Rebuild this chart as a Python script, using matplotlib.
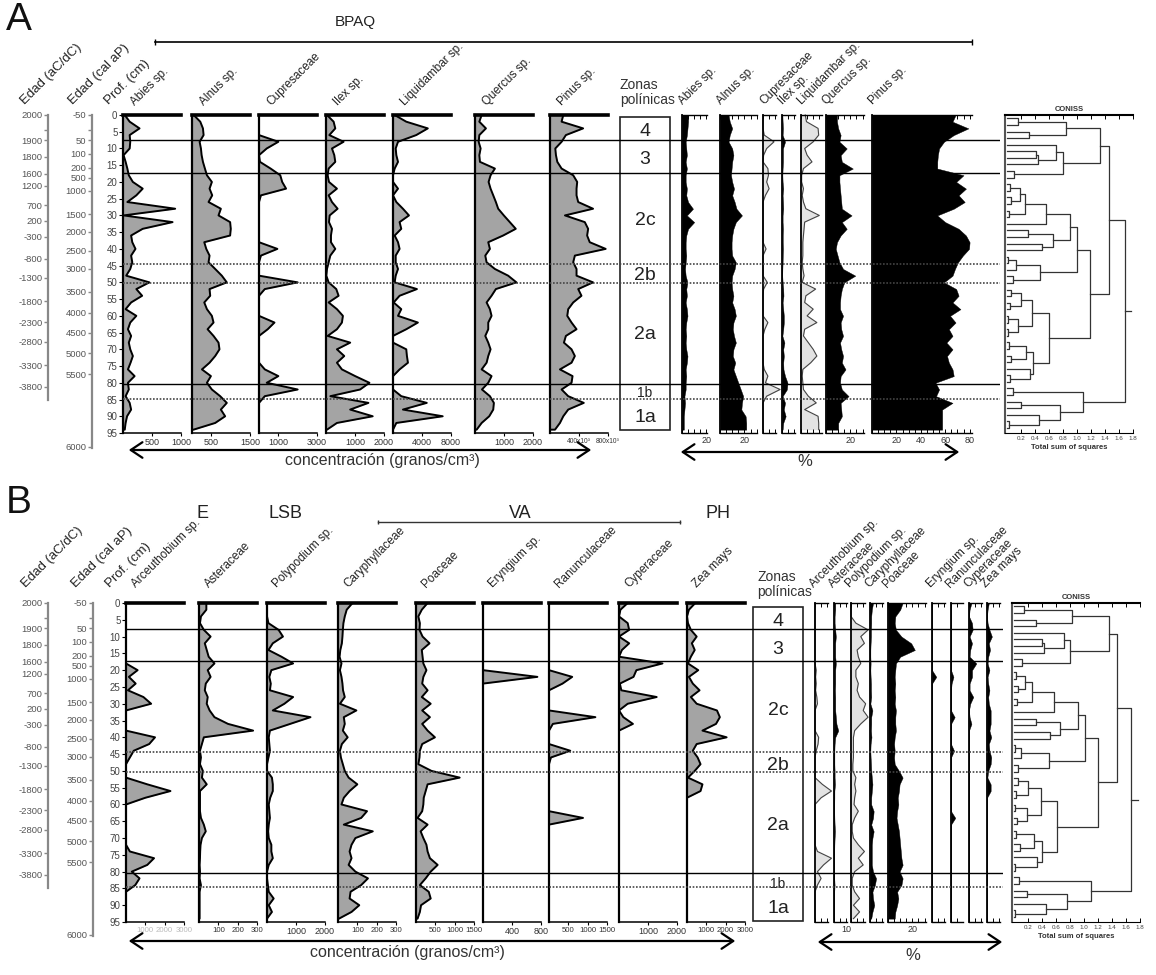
import numpy as np
import matplotlib
matplotlib.use("Agg")
import matplotlib.pyplot as plt
from matplotlib.patches import FancyArrowPatch, Rectangle
from matplotlib.ticker import MultipleLocator

plt.rcParams["font.family"] = ["Liberation Sans", "DejaVu Sans"]

# ---------------------------------------------------------------------------
# Data
# ---------------------------------------------------------------------------
depth = [0, 2, 4, 6, 8, 10, 12, 14, 16, 18, 20, 22, 24, 26, 28, 30, 32, 34, 36, 38,
         40, 42, 44, 46, 48, 50, 52, 54, 56, 58, 60, 62, 64, 66, 68, 70, 72, 74, 76, 78,
         80, 82, 84, 86, 88, 90, 92, 94]

# --- Panel A: concentration (granos/cm3) ---
a_abies_c = [30, 115, 285, 115, 125, 115, 10, 45, 75, 100,
             170, 340, 230, 75, 900, 10, 855, 340, 140, 160,
             215, 140, 160, 125, 55, 455, 230, 330, 140, 45,
             230, 125, 85, 140, 100, 125, 170, 130, 85, 200,
             85, 100, 45, 115, 140, 70, 45, 30]
a_alnus_c = [43, 214, 283, 300, 197, 231, 249, 283, 334, 386,
             514, 454, 523, 428, 746, 686, 986, 1003, 986, 317,
             369, 454, 428, 600, 771, 900, 454, 471, 317, 386,
             514, 557, 403, 557, 686, 711, 600, 454, 257, 489,
             386, 514, 729, 900, 746, 857, 600, 40]
a_cupr_c = [0, 0, 0, 0, 1000, 400, 0, 50, 600, 1100,
            1200, 1400, 100, 0, 0, 0, 0, 0, 0, 0,
            950, 100, 0, 0, 0, 2000, 300, 0, 0, 0,
            0, 800, 450, 0, 0, 0, 0, 0, 300, 1000,
            400, 2000, 300, 0, 0, 0, 0, 0]
a_ilex_c = [35, 263, 320, 114, 606, 206, 286, 320, 91, 57,
            103, 377, 91, 206, 400, 126, 103, 206, 171, 171,
            320, 149, 91, 34, 11, 91, 354, 434, 91, 377,
            583, 549, 377, 57, 834, 377, 629, 377, 549, 1006,
            1497, 1177, 149, 1463, 834, 1611, 377, 34]
a_liq_c = [230, 1830, 4800, 3200, 690, 370, 460, 690, 230, 0,
           0, 690, 0, 460, 1370, 2200, 910, 1140, 230, 690,
           910, 370, 370, 690, 370, 230, 3300, 910, 90, 1140,
           690, 3430, 1830, 0, 0, 1830, 1920, 2060, 910, 0,
           0, 0, 1140, 4660, 1370, 6860, 460, 0]
a_quercus_c = [229, 149, 377, 149, 126, 194, 149, 171, 686, 537,
               469, 537, 629, 720, 800, 994, 1200, 1406, 971, 457,
               514, 354, 400, 686, 1143, 1429, 720, 571, 400, 514,
               571, 457, 457, 354, 457, 537, 457, 400, 229, 571,
               457, 240, 514, 651, 629, 491, 229, 57]
a_pinus_c = [183, 160, 457, 219, 160, 73, 82, 101, 160, 320,
             375, 366, 366, 389, 594, 206, 480, 526, 512, 548,
             768, 343, 320, 366, 366, 594, 389, 434, 320, 251,
             238, 297, 366, 219, 192, 297, 343, 297, 137, 311,
             297, 160, 251, 466, 251, 183, 137, 69]

# --- Panel A: percentages ---
a_abies_p = [5, 5, 4.5, 4, 3, 3.5, 4, 3, 4, 3,
             3, 4, 3.5, 5, 9, 4, 10, 5, 3.5, 3,
             3, 3.5, 3, 2.5, 3, 4.5, 3.5, 4, 3, 4,
             4.5, 3.5, 3, 3.5, 3, 3.5, 4.5, 4, 3, 3.5,
             3, 3, 2, 2.5, 2, 1.5, 1.5, 1.5]
a_alnus_p = [7, 8, 10, 8, 7, 10, 11, 10, 9.5, 9,
             10, 11.5, 10, 12, 13.5, 18, 13, 11, 10, 9.5,
             9.5, 10, 13, 12, 10, 9.5, 10, 11, 10, 12,
             13, 11, 10.5, 11.5, 13, 11, 10.5, 12.5, 11, 13,
             15, 17, 19, 18, 17.5, 21, 21.5, 21.5]
a_cupr_p = [0, 0, 0, 1, 9, 3, 0.5, 0, 4, 4.5,
            3, 5, 2, 0, 0, 0, 0, 0, 0, 0,
            2.5, 0, 0, 0, 0, 3.5, 0.5, 0, 0, 0,
            0, 4, 1.5, 0, 0, 0, 0, 0, 1, 4,
            2, 14, 3, 0, 0, 0, 0, 0]
a_ilex_p = [0.3, 0.5, 0.8, 0.5, 2.5, 0.8, 0.8, 0.8, 0.5, 0.3,
            0.5, 1, 0.5, 0.8, 1, 0.5, 0.5, 0.8, 0.6, 0.6,
            0.8, 0.6, 0.5, 0.3, 0.2, 0.5, 1, 1.2, 0.5, 1,
            1.5, 1.5, 1, 0.3, 2, 1, 1.5, 1, 1.2, 2.5,
            4.5, 4, 0.5, 2.5, 1.5, 3, 1, 0.5]
a_liq_p = [3.5, 4.5, 14, 14.5, 10, 3, 5, 9, 2, 0.5,
           0.5, 2, 1, 2, 4, 15, 3, 2.5, 2, 1.5,
           1.5, 1.5, 1, 1.5, 2.5, 1, 12, 4, 3, 10,
           5, 13, 3, 2, 6, 10, 13, 8, 1.5, 1,
           1.5, 2, 6, 12.5, 3, 14, 14.5, 14.5]
a_quercus_p = [9, 9, 10, 12, 11, 17, 12, 13, 22, 11,
               11, 11.5, 12, 12.5, 13, 21, 13, 17, 12, 9,
               8, 9.5, 11, 14, 24, 15, 13, 12, 11.5, 11.5,
               14, 12, 12.5, 14, 11.5, 12.5, 14, 13, 16, 12,
               11.5, 13, 18.5, 12, 12.5, 13, 10, 10]
a_pinus_p = [68.5, 66, 79, 67, 59, 55, 54, 53.5, 53.5, 75,
             69, 77, 71, 76, 67, 53.5, 60, 71, 77, 80,
             79.5, 74.5, 70.5, 68, 66, 59, 69, 71, 66, 72.5,
             64, 68.5, 63, 66, 61, 66, 61.5, 63, 66, 67,
             52, 55, 52.5, 66, 57.5, 57.5, 57.5, 57.5]

a_names = ["Abies sp.", "Alnus sp.", "Cupresaceae", "Ilex sp.",
           "Liquidambar sp.", "Quercus sp.", "Pinus sp."]
a_conc = [a_abies_c, a_alnus_c, a_cupr_c, a_ilex_c, a_liq_c, a_quercus_c, a_pinus_c]
a_pct = [a_abies_p, a_alnus_p, a_cupr_p, a_ilex_p, a_liq_p, a_quercus_p, a_pinus_p]
a_conc_max = [1000, 1500, 3000, 2000, 8000, 2000, 800]
a_conc_ticks = [[500, 1000], [500, 1500], [1000, 3000], [1000, 2000],
                [4000, 8000], [1000, 2000], [400, 800]]
a_conc_labels = [["500", "1000"], ["500", "1500"], ["1000", "3000"], ["1000", "2000"],
                 ["4000", "8000"], ["1000", "2000"], ["400x10³", "800x10³"]]
a_pct_ticks = [[20], [20], [], [], [], [20], [20, 40, 60, 80]]
a_pct_light = [False, False, True, False, True, False, False]

# --- Panel B: concentration (granos/cm3) ---
b_arceu_c = [0, 0, 0, 0, 0, 0, 0, 0, 0, 0,
             600, 150, 500, 100, 900, 1300, 0, 0, 0, 0,
             1500, 1200, 400, 200, 0, 0, 0, 1100, 2300, 1000,
             0, 0, 0, 0, 0, 0, 0, 200, 1450, 1100,
             300, 700, 480, 0, 0, 0, 0, 0]
b_aster_c = [38, 38, 10, 5, 25, 60, 30, 40, 50, 80,
             45, 60, 35, 30, 45, 40, 55, 80, 150, 280,
             25, 15, 5, 10, 5, 20, 15, 40, 5, 5,
             5, 5, 10, 25, 35, 15, 8, 6, 5, 3,
             5, 3, 10, 3, 3, 3, 3, 3]
b_poly_c = [0, 0, 0, 50, 400, 550, 200, 50, 500, 900,
            150, 80, 130, 100, 900, 600, 200, 1500, 800, 100,
            60, 80, 100, 50, 0, 0, 170, 200, 200, 110,
            60, 80, 100, 60, 40, 60, 150, 150, 200, 60,
            0, 0, 30, 60, 230, 60, 170, 0]
b_cary_c = [75, 45, 35, 28, 25, 23, 20, 12, 8, 18,
            10, 18, 23, 26, 35, 10, 95, 30, 35, 25,
            50, 20, 10, 15, 25, 35, 55, 100, 60, 30,
            18, 150, 120, 30, 180, 90, 70, 60, 70, 55,
            90, 155, 120, 65, 60, 110, 70, 5]
b_poa_c = [300, 150, 60, 100, 90, 170, 350, 150, 170, 190,
           270, 190, 160, 300, 150, 380, 160, 360, 160, 300,
           490, 160, 100, 90, 60, 400, 1130, 300, 250, 200,
           190, 160, 40, 300, 120, 190, 270, 300, 360, 560,
           380, 250, 100, 330, 380, 130, 100, 40]
b_eryn_c = [0, 0, 0, 0, 0, 0, 0, 0, 0, 0,
            0, 750, 0, 0, 0, 0, 0, 0, 0, 0,
            0, 0, 0, 0, 0, 0, 0, 0, 0, 0,
            0, 0, 0, 0, 0, 0, 0, 0, 0, 0,
            0, 0, 0, 0, 0, 0, 0, 0]
b_ranun_c = [0, 0, 0, 0, 0, 0, 0, 0, 0, 0,
             0, 600, 350, 0, 0, 0, 0, 1200, 100, 0,
             0, 0, 550, 50, 0, 0, 0, 0, 0, 0,
             0, 0, 880, 0, 0, 0, 0, 0, 0, 0,
             0, 0, 0, 0, 0, 0, 0, 0]
b_cyper_c = [300, 50, 0, 300, 350, 0, 350, 100, 0, 1500,
             600, 500, 30, 80, 1300, 300, 0, 150, 480, 0,
             0, 0, 0, 0, 0, 0, 0, 0, 0, 0,
             0, 0, 0, 0, 0, 0, 0, 0, 0, 0,
             0, 0, 0, 0, 0, 0, 0, 0]
b_zea_c = [430, 100, 0, 50, 200, 500, 250, 400, 200, 50,
           580, 100, 300, 650, 200, 500, 1550, 1700, 1500, 800,
           2050, 500, 300, 550, 700, 400, 50, 800, 700, 0,
           0, 0, 0, 0, 0, 0, 0, 0, 0, 0,
           0, 0, 0, 0, 0, 0, 0, 0]

# --- Panel B: percentages ---
b_arceu_p = [0, 0, 0, 0, 0, 0, 0, 0, 0, 0,
             1, 0.5, 1, 0.5, 1.5, 2, 0, 0, 0, 0,
             3, 2.5, 1, 0, 0, 0, 0, 6, 13.5, 5,
             0, 0, 0, 0, 0, 0, 0, 2, 13.5, 7,
             2, 5, 2, 0, 0, 0, 0, 0]
b_aster_p = [1, 1, 0.5, 0.5, 1, 1.5, 1, 1, 1, 1.5,
             1, 1, 1, 0.8, 1, 1, 1, 1.5, 2, 3.5,
             1, 0.5, 0.3, 0.3, 0.3, 0.5, 0.5, 0.8, 0.3, 0.3,
             0.2, 0.2, 0.3, 0.5, 0.8, 0.5, 0.3, 0.2, 0.2, 0.2,
             0.2, 0.2, 0.5, 0.2, 0.2, 0.2, 0.2, 0.2]
b_poly_p = [0, 0, 0, 4, 14, 8, 11, 5, 6, 8,
            4, 4, 6, 5, 7, 12, 10, 14, 8, 3,
            2, 2, 2, 2, 1.5, 1.5, 4, 3, 4, 3,
            2.5, 6, 3, 1, 1, 2, 6, 11, 6, 10,
            3, 1, 1, 3, 7, 2, 7, 2]
b_cary_p = [2.5, 1.5, 1, 1, 0.8, 0.8, 0.5, 0.3, 0.3, 0.5,
            0.3, 0.5, 0.8, 0.8, 1, 0.3, 2, 1, 1, 0.8,
            1.2, 0.5, 0.3, 0.5, 0.8, 1, 1.5, 2, 1.5, 1,
            1, 3, 2.5, 1, 3, 2, 1.5, 1.5, 1.5, 1.5,
            2.5, 5, 4, 2, 2.5, 3.5, 2, 1]
b_poa_p = [12, 10, 6, 5.5, 6.5, 11, 19, 22, 10, 6.5,
           6, 5.5, 6, 5.5, 6, 5.5, 6.5, 6, 6, 6.5,
           5.5, 5, 5.5, 5, 5.5, 9, 12, 9.5, 9, 8,
           8.5, 7.5, 7, 8, 9, 9.5, 10, 10.5, 11, 12,
           9.5, 12, 11, 7.5, 8.5, 7.5, 6, 5.5]
b_eryn_p = [0, 0, 0, 0, 0, 0, 0, 0, 0, 0,
            0, 3.5, 0, 0, 0, 0, 0, 0, 0, 0,
            0, 0, 0, 0, 0, 0, 0, 0, 0, 0,
            0, 0, 0, 0, 0, 0, 0, 0, 0, 0,
            0, 0, 0, 0, 0, 0, 0, 0]
b_ranun_p = [0, 0, 0, 0, 0, 0, 0, 0, 0, 0,
             0, 2, 0.5, 0, 0, 0, 0, 3, 0, 0,
             0, 0, 2.5, 0, 0, 0, 0, 0, 0, 0,
             0, 0, 3.5, 0, 0, 0, 0, 0, 0, 0,
             0, 0, 0, 0, 0, 0, 0, 0]
b_cyper_p = [2, 0.5, 0, 2.5, 3, 0.5, 2.5, 1, 0.5, 6,
             2.5, 2.5, 0.5, 0.5, 3.5, 1, 0, 0.5, 2, 0,
             0, 0, 0, 0, 0, 0, 0, 0, 0, 0,
             0, 0, 0, 0, 0, 0, 0, 0, 0, 0,
             0, 0, 0, 0, 0, 0, 0, 0]
b_zea_p = [1.5, 0.5, 0, 0.5, 2, 4, 1.5, 2.5, 1, 0.5,
           2, 0.5, 1, 2, 1, 1.5, 3, 3, 3, 2,
           3.5, 1.5, 2, 3.5, 3, 1, 0.3, 3, 3, 0,
           0, 0, 0, 0, 0, 0, 0, 0, 0, 0,
           0, 0, 0, 0, 0, 0, 0, 0]

b_names = ["Arceuthobium sp.", "Asteraceae", "Polypodium sp.", "Caryphyllaceae",
           "Poaceae", "Eryngium sp.", "Ranunculaceae", "Cyperaceae", "Zea mays"]
b_conc = [b_arceu_c, b_aster_c, b_poly_c, b_cary_c, b_poa_c, b_eryn_c,
          b_ranun_c, b_cyper_c, b_zea_c]
b_pct = [b_arceu_p, b_aster_p, b_poly_p, b_cary_p, b_poa_p, b_eryn_p,
         b_ranun_p, b_cyper_p, b_zea_p]
b_conc_max = [3000, 300, 2000, 300, 1500, 800, 1500, 2000, 3000]
b_conc_ticks = [[1000, 2000, 3000], [100, 200, 300], [1000, 2000], [100, 200, 300],
                [500, 1000, 1500], [400, 800], [500, 1000, 1500], [1000, 2000],
                [1000, 2000, 3000]]
b_pct_ticks = [[], [10], [], [], [20], [], [], [], []]
b_pct_light = [True, False, True, False, False, False, False, False, False]

# zones
zone_solid = [7.6, 17.4, 80.5]
zone_dotted = [44.5, 50.3, 84.7]
zone_names = ["4", "3", "2c", "2b", "2a", "1b", "1a"]
zone_mid = [4.8, 13.4, 31.4, 47.8, 65.7, 83.0, 90.5]

# age scales (label, depth in cm)
age_ad = ["2000", "", "1900", "1800", "1600", "1200", "700", "200", "-300", "-800",
          "-1300", "-1800", "-2300", "-2800", "-3300", "-3800"]
age_ad_depth = [0, 4.5, 7.5, 12.5, 17.6, 21.1, 26.9, 31.6, 36.4, 43, 48.7, 55.6,
                62, 67.7, 74.7, 81.2]
age_bp = ["-50", "", "50", "100", "200", "500", "1000", "1500", "2000", "2500", "3000",
          "3500", "4000", "4500", "5000", "5500", "6000"]
age_bp_depth = [0, 4.5, 7.5, 11.6, 15.8, 18.8, 22.6, 29.6, 34.9, 40.5, 46, 52.8,
                59.1, 65, 71.2, 77.5, 99.2]

# CONISS trees: [height, left, right]; L = one sample
L = 0
coniss_a = [1.68,
            [1.46,
             [1.33,
              [0.84, [0.16, L, L], [0.31, L, L]],
              [0.8, [0.7, L, [0.44, [0.42, L, L], L]], [0.1, L, L]]],
             [1.18,
              [1.0,
               [0.9,
                [0.55, [0.25, [0.18, [0.04, L, L], [0.05, L, L]], [0.03, L, L]], L],
                [0.66, [0.3, L, L], [0.5, L, L]]],
               [0.47, [0.13, [0.02, L, L], L], [0.08, L, L]]],
              [0.6,
               [0.35, [0.2, [0.05, L, L], [0.04, L, L]], [0.15, [0.01, L, L], [0.02, L, L]]],
               [0.37, [0.27, [0.03, L, L], [0.06, L, L]], [0.33, L, [0.04, L, L]]]]]],
            [1.08, [0.08, L, L], [0.75, [0.2, L, L], [0.45, L, [0.03, L, L]]]]]
coniss_b = [1.67,
            [1.47,
             [1.35,
              [0.83, [0.14, L, L], [0.31, L, L]],
              [0.8, [0.71, L, [0.43, [0.4, L, L], L]], [0.12, L, L]]],
             [1.2,
              [1.02,
               [0.92,
                [0.57, [0.26, [0.16, [0.03, L, L], [0.05, L, L]], [0.04, L, L]], L],
                [0.66, [0.31, L, L], [0.52, L, L]]],
               [0.5, [0.1, [0.02, L, L], L], [0.05, L, L]]],
              [0.62,
               [0.38, [0.2, [0.05, L, L], [0.03, L, L]], [0.18, [0.02, L, L], [0.04, L, L]]],
               [0.4, [0.28, [0.03, L, L], [0.08, L, L]], [0.33, L, [0.02, L, L]]]]]],
            [1.1, [0.07, L, L], [0.75, [0.19, L, L], [0.45, L, [0.02, L, L]]]]]

# ---------------------------------------------------------------------------
# Layout (pixels)
# ---------------------------------------------------------------------------
W, H = 1156, 975
CONC_FILL = "#a4a4a4"
LIGHT_FILL = "#e3e3e3"
PCT_PX = 1.22          # px per percent unit

fig = plt.figure(figsize=(W / 100, H / 100), dpi=100)


def px_axes(x, y, w, h):
    ax = fig.add_axes([x / W, 1 - (y + h) / H, w / W, h / H])
    ax.patch.set_alpha(0)
    return ax


def conc_column(x, top, bot, vals, xmax, ticks, labels, label_color="#333",
                label_size=6.5, depth_axis=False):
    ax = px_axes(x, top, 58, bot - top)
    ax.fill_betweenx(depth, 0, vals, color=CONC_FILL, lw=0, zorder=2)
    ax.plot([0] + vals + [0], [depth[0]] + depth + [depth[-1]],
            color="black", lw=1.4, zorder=3)
    ax.set_xlim(0, xmax)
    ax.set_ylim(95, 0)
    ax.spines["right"].set_visible(False)
    ax.spines["top"].set_linewidth(2.6)
    ax.spines["left"].set_linewidth(1.6)
    ax.spines["bottom"].set_linewidth(1.1)
    ax.set_xticks(ticks)
    ax.set_xticklabels(labels, fontsize=label_size, color=label_color)
    ax.tick_params(axis="x", length=2, width=0.8, pad=1.5)
    if depth_axis:
        ax.set_yticks(list(range(0, 96, 5)))
        ax.tick_params(axis="y", length=3, width=0.8, labelsize=7, labelcolor="#444", pad=1)
    else:
        ax.set_yticks([])
    return ax


def pct_column(x, w, top, bot, vals, light, ticks):
    ax = px_axes(x, top, w, bot - top)
    if light:
        ax.fill_betweenx(depth, 0, vals, color=LIGHT_FILL, lw=0, clip_on=False)
        ax.plot(vals, depth, color="#444", lw=0.8, clip_on=False)
    else:
        ax.fill_betweenx(depth, 0, vals, color="black", lw=0.3, clip_on=False)
    ax.set_xlim(0, w / PCT_PX)
    ax.set_ylim(95, 0)
    ax.spines["right"].set_visible(False)
    ax.spines["left"].set_linewidth(1.3)
    ax.spines["top"].set_linewidth(1.0)
    ax.spines["bottom"].set_linewidth(1.0)
    ax.set_xticks(ticks)
    ax.set_xticklabels([str(t) for t in ticks], fontsize=6.5, color="#333")
    ax.xaxis.set_minor_locator(MultipleLocator(5))
    ax.tick_params(axis="x", which="both", direction="in", top=True, bottom=True,
                   length=3, width=0.7, pad=2)
    ax.set_yticks([])
    return ax


def zone_box(x, top, bot):
    ax = px_axes(x, top, 50, bot - top)
    ax.set_xlim(0, 1)
    ax.set_ylim(95, 0)
    ax.axis("off")
    ax.add_patch(Rectangle((0, 0.6), 1, 93.5, fill=False, lw=1.2, ec="#222", clip_on=False))
    for name, d in zip(zone_names, zone_mid):
        ax.text(0.5, d, name, ha="center", va="center",
                fontsize=10 if name == "1b" else 14, color="#222")


def zone_lines(x0, x1, top, bot):
    ax = px_axes(x0, top, x1 - x0, bot - top)
    ax.set_xlim(0, 1)
    ax.set_ylim(95, 0)
    ax.axis("off")
    for d in zone_solid:
        ax.axhline(d, color="black", lw=1.0)
    for d in zone_dotted:
        ax.axhline(d, color="#444", lw=1.2, ls=(0, (1, 1)))


def age_axis(x, top, labels, pos, end):
    ax = px_axes(x, top, 2, 333)
    ax.set_ylim(99.5, 0)
    for s in ("right", "top", "bottom"):
        ax.spines[s].set_visible(False)
    ax.spines["left"].set_bounds(0, end)
    ax.spines["left"].set_color("#888")
    ax.spines["left"].set_linewidth(1.6)
    ax.set_xticks([])
    ax.set_yticks(pos)
    ax.set_yticklabels(labels)
    ax.tick_params(axis="y", length=3, width=1, color="#888",
                   labelsize=6.8, labelcolor="#555", pad=1)


def n_leaves(node):
    if not isinstance(node, list):
        return 1
    return n_leaves(node[1]) + n_leaves(node[2])


def draw_tree(ax, node, leaf_y):
    if not isinstance(node, list):
        return leaf_y.pop(0), 0.0
    h, left, right = node
    y1, h1 = draw_tree(ax, left, leaf_y)
    y2, h2 = draw_tree(ax, right, leaf_y)
    ax.plot([h1, h, h, h2], [y1, y1, y2, y2], color="#333", lw=0.9)
    return 0.5 * (y1 + y2), h


def coniss_axes(x, top, bot, tree):
    ax = px_axes(x, top, 128, bot - top)
    leaf_y = list(np.linspace(1, 93.5, n_leaves(tree)))
    yr, hr = draw_tree(ax, tree, leaf_y)
    ax.plot([hr, 1.77], [yr, yr], color="#333", lw=0.9)
    ax.set_xlim(-0.03, 1.8)
    ax.set_ylim(95, 0)
    ax.spines["right"].set_visible(False)
    ax.spines["left"].set_linewidth(1.5)
    ax.spines["left"].set_color("#555")
    ax.spines["top"].set_linewidth(1.5)
    ticks = [0.2, 0.4, 0.6, 0.8, 1.0, 1.2, 1.4, 1.6, 1.8]
    ax.set_xticks(ticks)
    ax.set_xticklabels(["%.1f" % t for t in ticks])
    ax.tick_params(axis="x", direction="in", top=True, bottom=True, length=3,
                   width=0.7, labelsize=4.5, pad=2, labelcolor="#444")
    ax.set_yticks([])
    ax.set_title("CONISS", fontsize=5.5, fontweight="bold", pad=3, color="#333")
    ax.set_xlabel("Total sum of squares", fontsize=5.5, fontweight="bold",
                  labelpad=2, color="#333")


# --- Panel A ---
A_TOP, A_BOT = 115, 433
a_conc_x = [123, 192, 259, 326, 393, 475, 550]
a_pct_x = [682, 720, 763, 782, 801, 826, 872]
a_pct_w = [25, 37, 13, 13, 21, 38, 100]

age_axis(48, A_TOP, age_ad, age_ad_depth, 85.2)
age_axis(92, A_TOP, age_bp, age_bp_depth, 99.5)
for i, x in enumerate(a_conc_x):
    conc_column(x, A_TOP, A_BOT, a_conc[i], a_conc_max[i], a_conc_ticks[i],
                a_conc_labels[i], label_size=4.8 if i == 6 else 6.5,
                depth_axis=(i == 0))
for i, x in enumerate(a_pct_x):
    pct_column(x, a_pct_w[i], A_TOP, A_BOT, a_pct[i], a_pct_light[i], a_pct_ticks[i])
zone_box(620, A_TOP, A_BOT)
coniss_axes(1005, A_TOP, A_BOT, coniss_a)
zone_lines(123, 1000, A_TOP, A_BOT)

# --- Panel B ---
B_TOP, B_BOT = 603, 922
b_conc_x = [126, 199, 267, 338, 416, 483, 549, 619, 687]
b_pct_x = [815, 834, 851, 870, 888, 932, 951, 969, 987]
b_pct_w = [12.5, 12.5, 14, 13, 38, 13, 12, 12.5, 13]

age_axis(48, B_TOP, age_ad, age_ad_depth, 85.2)
age_axis(93, B_TOP, age_bp, age_bp_depth, 99.5)
for i, x in enumerate(b_conc_x):
    conc_column(x, B_TOP, B_BOT, b_conc[i], b_conc_max[i], b_conc_ticks[i],
                [str(t) for t in b_conc_ticks[i]],
                label_color="#bbbbbb" if i == 0 else "#333",
                label_size=5.6 if len(b_conc_ticks[i]) == 3 else 6.5,
                depth_axis=(i == 0))
for i, x in enumerate(b_pct_x):
    pct_column(x, b_pct_w[i], B_TOP, B_BOT, b_pct[i], b_pct_light[i], b_pct_ticks[i])
zone_box(753, B_TOP + 2, B_BOT + 2)
coniss_axes(1012, B_TOP, B_BOT, coniss_b)
zone_lines(126, 1003, B_TOP, B_BOT)

# ---------------------------------------------------------------------------
# Overlay: headers, arrows, group labels (pixel coordinates)
# ---------------------------------------------------------------------------
ov = fig.add_axes([0, 0, 1, 1])
ov.set_xlim(0, W)
ov.set_ylim(H, 0)
ov.axis("off")


def header(x, y, s, size=8.5):
    ov.text(x, y, s, rotation=45, rotation_mode="anchor", ha="left", va="bottom",
            fontsize=size, color="#222")


def arrow(x0, x1, y):
    ov.add_patch(FancyArrowPatch((x0, y), (x1, y), arrowstyle="<->,head_length=0.6,head_width=0.4",
                                 mutation_scale=14, lw=1.6, color="black"))


for y_head, xs in ((107, (27, 75, 111)), (590, (28, 78, 112))):
    header(xs[0], y_head, "Edad (aC/dC)", 9.5)
    header(xs[1], y_head, "Edad (cal aP)", 9.5)
    header(xs[2], y_head, "Prof. (cm)", 9.5)

for name, x in zip(a_names, a_conc_x):
    header(x + 14, 108, name)
for name, x in zip(a_names, a_pct_x):
    header(x + 3, 107, name)
for name, x in zip(b_names, b_conc_x):
    header(x + 12, 590, name)
for name, x in zip(b_names, b_pct_x):
    header(x + 1, 590, name)

ov.text(620, 85, "Zonas", fontsize=10, color="#333", va="center")
ov.text(620, 100, "polínicas", fontsize=10, color="#333", va="center")
ov.text(757, 577, "Zonas", fontsize=10, color="#333", va="center")
ov.text(757, 592, "polínicas", fontsize=10, color="#333", va="center")

ov.text(6, 20, "A", fontsize=28, va="center", ha="left", color="#111")
ov.text(6, 503, "B", fontsize=28, va="center", ha="left", color="#111")

ov.text(355, 22, "BPAQ", fontsize=11, ha="center", va="center", color="#222")
ov.plot([155, 972], [42, 42], color="black", lw=1.2)
ov.plot([155, 972], [42, 42], ls="none", marker="|", ms=4, color="black")

ov.text(203, 513, "E", fontsize=13, ha="center", va="center", color="#222")
ov.text(285, 513, "LSB", fontsize=13, ha="center", va="center", color="#222")
ov.text(520, 513, "VA", fontsize=13, ha="center", va="center", color="#222")
ov.text(718, 513, "PH", fontsize=13, ha="center", va="center", color="#222")
ov.plot([378, 680], [522, 522], color="#333", lw=1.0)
ov.plot([378, 680], [522, 522], ls="none", marker="|", ms=3, color="#333")

arrow(126, 594, 450)
arrow(678, 962, 452)
ov.text(382, 461, "concentración (granos/cm³)", fontsize=11.5, ha="center", va="center", color="#333")
ov.text(805, 462, "%", fontsize=12, ha="center", va="center", color="#333")

arrow(126, 738, 941)
arrow(815, 1005, 942)
ov.text(407, 953, "concentración (granos/cm³)", fontsize=11.5, ha="center", va="center", color="#333")
ov.text(913, 955, "%", fontsize=12, ha="center", va="center", color="#333")

fig.savefig("out.png", dpi=100)
